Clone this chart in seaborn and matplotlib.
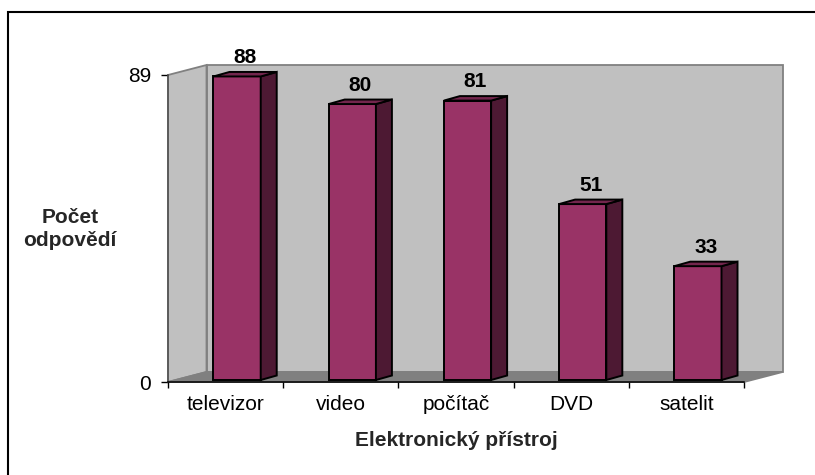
import matplotlib
matplotlib.use("Agg")
import matplotlib.pyplot as plt
import matplotlib.transforms as mtransforms
from matplotlib.patches import Polygon, Rectangle
import seaborn as sns
import pandas as pd

# data
categories = ["televizor", "video", "počítač", "DVD", "satelit"]
counts = [88, 80, 81, 51, 33]
y_ticks = [0, 89]
x_title = "Elektronický přístroj"
y_title = "Počet\nodpovědí"

# colours
FRONT = "#993366"
SIDE = "#4d1933"
TOP = "#73264d"
WALL = "#c0c0c0"
FLOOR = "#808080"
WALL_EDGE = "#808080"

sns.set_theme(style="white")
plt.rcParams["font.family"] = ["Liberation Sans", "DejaVu Sans"]

W, H = 815, 475
fig = plt.figure(figsize=(W / 100, H / 100), dpi=100)
fig.patch.set_facecolor("white")

# plot area in pixels (x from left, y from top)
L, R, T, B = 168, 744, 75, 382
ax = fig.add_axes([L / W, 1 - B / H, (R - L) / W, (B - T) / H])
ax.set_facecolor("none")

# pixel coordinates with y pointing up (same as display coords at dpi 100)
px = mtransforms.Affine2D().scale(1 / W, 1 / H) + fig.transFigure

# depth of the 3-D box and of the columns (pixels)
WX, WY = 38.5, 10.0
DX, DY = 16.0, 4.5
SX, SY = 11.5, 2.0   # columns sit slightly behind the front plane

yb, yt = H - B, H - T
box_style = dict(transform=px, edgecolor=WALL_EDGE, linewidth=1.3, zorder=-2)
fig.add_artist(Rectangle((L + WX, yb + WY), R - L, B - T, facecolor=WALL, **box_style))
fig.add_artist(Polygon([(L, yb), (L, yt), (L + WX, yt + WY), (L + WX, yb + WY)],
                       closed=True, facecolor=WALL, **box_style))
fig.add_artist(Polygon([(L, yb), (L + WX, yb + WY), (R + WX, yb + WY), (R, yb)],
                       closed=True, facecolor=FLOOR, **box_style))

df = pd.DataFrame({"device": categories, "count": counts})
sns.barplot(data=df, x="device", y="count", color=FRONT, saturation=1,
            width=0.41, edgecolor="black", linewidth=1.4, ax=ax, zorder=3)

ax.set_xlim(-0.5, len(categories) - 0.5)
ax.set_ylim(y_ticks[0], y_ticks[-1])

shift = mtransforms.ScaledTranslation(SX / 100, SY / 100, fig.dpi_scale_trans)
for bar, value in zip(ax.patches, counts):
    x0, w, h = bar.get_x(), bar.get_width(), bar.get_height()
    bar.set_transform(ax.transData + shift)
    bx0, by0 = ax.transData.transform((x0, 0))
    bx1, by1 = ax.transData.transform((x0 + w, h))
    bx0, bx1, by0, by1 = bx0 + SX, bx1 + SX, by0 + SY, by1 + SY
    face_style = dict(closed=True, transform=px, edgecolor="black",
                      linewidth=1.4, clip_on=False, zorder=3)
    ax.add_artist(Polygon([(bx1, by0), (bx1 + DX, by0 + DY), (bx1 + DX, by1 + DY), (bx1, by1)],
                          facecolor=SIDE, **face_style))
    ax.add_artist(Polygon([(bx0, by1), (bx1, by1), (bx1 + DX, by1 + DY), (bx0 + DX, by1 + DY)],
                          facecolor=TOP, **face_style))
    ax.annotate(f"{value}", xy=(x0 + w / 2, h), xytext=((SX + DX / 2) * 0.72, (SY + DY + 9) * 0.72),
                textcoords="offset points", ha="center", va="baseline",
                fontsize=15, fontweight="bold", color="black", annotation_clip=False)

# axes, ticks and labels
ax.set_xlabel("")
ax.set_ylabel("")
ax.set_yticks(y_ticks)
ax.set_xticks(range(len(categories)))
ax.set_xticklabels(categories)
ax.set_xticks([i - 0.5 for i in range(len(categories) + 1)], minor=True)
ax.tick_params(axis="x", which="major", length=0, pad=9, labelsize=15, colors="black")
ax.tick_params(axis="x", which="minor", bottom=True, length=4.5, width=1, direction="out", color="black")
ax.tick_params(axis="y", which="major", left=True, length=5, width=1, direction="out",
               color="black", pad=7, labelsize=15, labelcolor="black")
for side in ("top", "right"):
    ax.spines[side].set_visible(False)
ax.spines["bottom"].set_color("black")
ax.spines["bottom"].set_linewidth(1.1)
ax.spines["left"].set_color("#505050")
ax.spines["left"].set_linewidth(1.1)

fig.text(456 / W, 1 - 440 / H, x_title, ha="center", va="center", fontsize=15, fontweight="bold")
fig.text(70 / W, 1 - 229 / H, y_title, ha="center", va="center", multialignment="center",
         linespacing=1.3, fontsize=15, fontweight="bold")

# chart frame
fig.add_artist(Rectangle((8, -20), W + 20, H - 12 + 20, transform=px, fill=False,
                         edgecolor="black", linewidth=1.5, zorder=5))

fig.savefig("out.png", dpi=100)
